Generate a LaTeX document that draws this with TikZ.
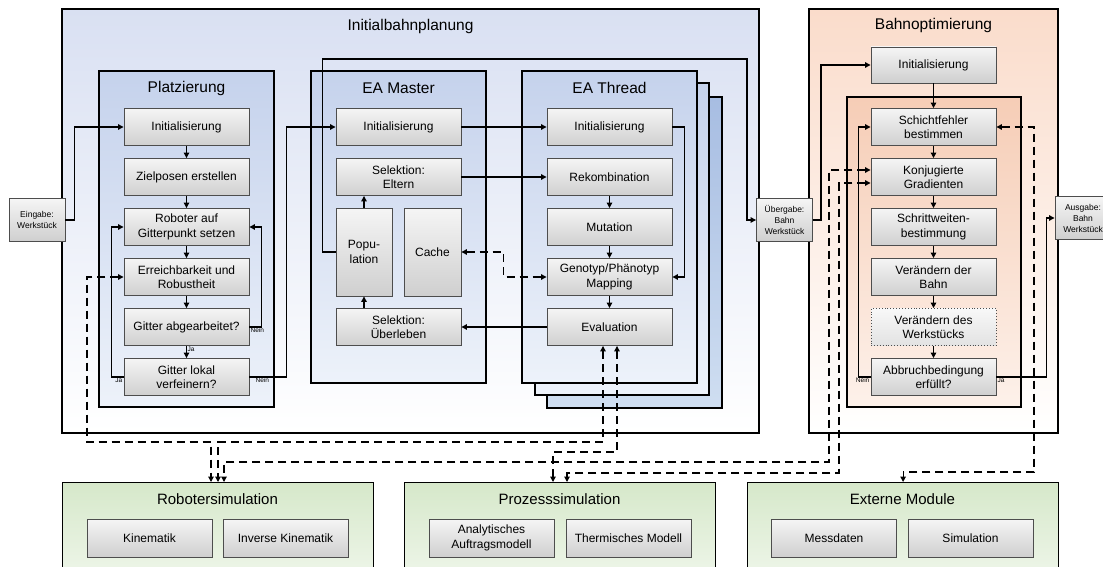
\documentclass[tikz,border=0pt]{standalone}
\usepackage{fontspec}
\setmainfont{Liberation Sans}
\usetikzlibrary{arrows.meta}

\definecolor{kastenrand}{HTML}{4D4D4D}
\definecolor{grauoben}{HTML}{F5F5F5}
\definecolor{grauunten}{HTML}{CFCFCF}
\definecolor{blauhell}{HTML}{D9E0F2}
\definecolor{blaumittel}{HTML}{C5D2EC}
\definecolor{blauunten}{HTML}{EDF2FA}
\definecolor{blaudunkel}{HTML}{A7BDE2}
\definecolor{blaudunkelunten}{HTML}{CFDEF1}
\definecolor{orangehell}{HTML}{FADCCB}
\definecolor{orangemittel}{HTML}{F6CDB6}
\definecolor{orangeunten}{HTML}{FDF1EA}
\definecolor{gruenoben}{HTML}{D6E8CA}
\definecolor{gruenunten}{HTML}{F2F8EE}

\tikzset{
  kasten/.style={draw=kastenrand, line width=0.9pt, top color=grauoben, bottom color=grauunten,
    minimum width=125pt, minimum height=37pt, align=center, inner sep=1pt,
    font=\fontsize{12}{14.5}\selectfont},
  klein/.style={kasten, minimum width=56pt, minimum height=43pt, font=\fontsize{8.5}{11}\selectfont},
  gruppe/.style={draw=black, line width=1.2pt},
  titel/.style={font=\fontsize{15.5}{18}\selectfont},
  pfeil/.style={-{Triangle[length=5.5pt,width=5.5pt]}, line width=1.2pt},
  strich/.style={{Triangle[length=5.5pt,width=5.5pt]}-{Triangle[length=5.5pt,width=5.5pt]}, line width=1.2pt, dash pattern=on 8pt off 5pt},
  anm/.style={font=\fontsize{6.5}{7}\selectfont, inner sep=1pt},
}

\begin{document}
\begin{tikzpicture}[x=1pt,y=-1pt]
\clip (0,0) rectangle (1103,567);

% =========================================================
% Initialbahnplanung (aussen)
% =========================================================
\draw[gruppe, top color=blauhell, bottom color=white] (62,9) rectangle (759,433);
\node[titel] (ibpTitel) at (410.5,26) {Initialbahnplanung};

% --- Platzierung ---
\draw[gruppe, top color=blaumittel, bottom color=blauunten] (99,71) rectangle (274,407);
\node[titel] (platzTitel) at (186.5,88) {Platzierung};
\node[kasten] (pInit) at (186.5,127) {Initialisierung};
\node[kasten] (pZiel) at (186.5,177) {Zielposen erstellen};
\node[kasten] (pRob)  at (186.5,227) {Roboter auf\\Gitterpunkt setzen};
\node[kasten] (pErr)  at (186.5,277) {Erreichbarkeit und\\Robustheit};
\node[kasten] (pGit)  at (186.5,327) {Gitter abgearbeitet?};
\node[kasten] (pLok)  at (186.5,377) {Gitter lokal\\verfeinern?};

% --- EA Master ---
\draw[gruppe, top color=blaumittel, bottom color=blauunten] (311,71) rectangle (486,383);
\node[titel] (masterTitel) at (398.5,88) {EA Master};
\node[kasten] (mInit) at (398.5,127) {Initialisierung};
\node[kasten] (mElt)  at (398.5,177) {Selektion:\\Eltern};
\node[kasten, minimum width=56pt, minimum height=88pt] (mPop) at (364,252) {Popu-\\lation};
\node[kasten, minimum width=57pt, minimum height=88pt] (mCache) at (432.5,252) {Cache};
\node[kasten] (mUeb)  at (398.5,327) {Selektion:\\Überleben};

% --- EA Thread (gestapelt) ---
\draw[gruppe, top color=blaudunkel, bottom color=blaudunkelunten] (547,97) rectangle (722,408);
\draw[gruppe, top color=blaumittel, bottom color=blauunten] (535,83) rectangle (709,395);
\draw[gruppe, top color=blaumittel, bottom color=blauunten] (522,71) rectangle (697,383);
\node[titel] (threadTitel) at (609.5,88) {EA Thread};
\node[kasten] (tInit) at (609.5,127) {Initialisierung};
\node[kasten] (tRek)  at (609.5,177) {Rekombination};
\node[kasten] (tMut)  at (609.5,227) {Mutation};
\node[kasten] (tMap)  at (609.5,277) {Genotyp/Phänotyp\\Mapping};
\node[kasten] (tEval) at (609.5,327) {Evaluation};

% =========================================================
% Bahnoptimierung
% =========================================================
\draw[gruppe, top color=orangehell, bottom color=white] (809,9) rectangle (1058,433);
\node[titel] (boTitel) at (933.5,25) {Bahnoptimierung};
\draw[gruppe, top color=orangemittel, bottom color=orangeunten] (847,97) rectangle (1021,407);
\node[kasten, minimum height=36pt] (bInit) at (933.5,65) {Initialisierung};
\node[kasten] (bSchicht) at (933.5,127) {Schichtfehler\\bestimmen};
\node[kasten] (bKonj)    at (933.5,177) {Konjugierte\\Gradienten};
\node[kasten] (bSchritt) at (933.5,227) {Schrittweiten-\\bestimmung};
\node[kasten] (bBahn)    at (933.5,277) {Verändern der\\Bahn};
\node[kasten, dotted, top color=grauoben!70!white, bottom color=grauunten!60!white] (bWerk) at (933.5,327) {Verändern des\\Werkstücks};
\node[kasten] (bAbb)     at (933.5,377) {Abbruchbedingung\\erfüllt?};

% Ein-/Ausgaben
\node[klein] (eIn)  at (37,220)    {Eingabe:\\Werkstück};
\node[klein] (eUeb) at (784.5,220) {Übergabe:\\Bahn\\Werkstück};
\node[klein] (eAus) at (1083,218)  {Ausgabe:\\Bahn\\Werkstück};

% =========================================================
% Module (unten)
% =========================================================
\node[gruppe, top color=gruenoben, bottom color=gruenunten, minimum width=311pt, minimum height=110pt, anchor=north west] (robsim) at (62,482) {};
\node[titel, font=\fontsize{15}{17}\selectfont] (robTitel) at (217.5,499) {Robotersimulation};
\node[kasten, minimum height=38pt] (kin)    at (149.5,538) {Kinematik};
\node[kasten, minimum height=38pt] (invkin) at (285.5,538) {Inverse Kinematik};

\node[gruppe, top color=gruenoben, bottom color=gruenunten, minimum width=311pt, minimum height=110pt, anchor=north west] (prozsim) at (404,482) {};
\node[titel, font=\fontsize{15}{17}\selectfont] (prozTitel) at (559.5,499) {Prozesssimulation};
\node[kasten, minimum height=38pt] (analyt) at (491.5,538) {Analytisches\\Auftragsmodell};
\node[kasten, minimum height=38pt] (therm)  at (628.5,538) {Thermisches Modell};

\node[gruppe, top color=gruenoben, bottom color=gruenunten, minimum width=311pt, minimum height=110pt, anchor=north west] (extern) at (747,482) {};
\node[titel, font=\fontsize{15}{17}\selectfont] (extTitel) at (902.5,499) {Externe Module};
\node[kasten, minimum height=38pt] (mess) at (834,538)   {Messdaten};
\node[kasten, minimum height=38pt] (sim)  at (970.5,538) {Simulation};

% Andockpunkte oben an den Modulen
\coordinate (rs1) at (211,482);
\coordinate (rs2) at (218,482);
\coordinate (rs3) at (224,482);
\coordinate (ps1) at (553,482);
\coordinate (ps2) at (567,482);
\coordinate (ecke) at (747,59);

% =========================================================
% Pfeile Platzierung
% =========================================================
\draw[pfeil] (eIn.east) -- ++(9,0) |- (pInit.west);
\draw[pfeil] (pInit) -- (pZiel);
\draw[pfeil] (pZiel) -- (pRob);
\draw[pfeil] (pRob) -- (pErr);
\draw[pfeil] (pErr) -- (pGit);
\draw[pfeil] (pGit) -- (pLok);
\draw[pfeil] (pGit.east) -- ++(12,0) |- (pRob.east);
\draw[pfeil] (pLok.west) -- ++(-12,0) |- (pRob.west);
\draw[pfeil] (pLok.east) -- ++(37,0) |- (mInit.west);
\node[anm, below right] (neinGit) at (pGit.east) {Nein};
\node[anm, below right] (jaGit) at (pGit.south) {Ja};
\node[anm, below left] (jaLok) at (pLok.west) {Ja};
\node[anm, below right, xshift=5pt] (neinLok) at (pLok.east) {Nein};

% =========================================================
% Pfeile EA
% =========================================================
\draw[pfeil] (mInit) -- (tInit);
\draw[pfeil] (mElt) -- (tRek);
\draw[pfeil] (tEval) -- (mUeb);
\draw[pfeil] (mUeb.north -| mPop.south) -- (mPop.south);
\draw[pfeil] (mPop.north) -- (mPop.north |- mElt.south);
\draw[pfeil] (mPop.west) -- ++(-13,0) |- (ecke) |- (eUeb.west);
\draw[pfeil] (tInit.east) -- ++(12,0) |- (tMap.east);
\draw[pfeil] (tRek) -- (tMut);
\draw[pfeil] (tMut) -- (tMap);
\draw[pfeil] (tMap) -- (tEval);
\draw[strich] (mCache.east) -- ++(42,0) |- (tMap.west);

% =========================================================
% Pfeile Bahnoptimierung
% =========================================================
\draw[pfeil] (eUeb.east) -- ++(8,0) |- (bInit.west);
\draw[pfeil] (bInit) -- (bSchicht);
\draw[pfeil] (bSchicht) -- (bKonj);
\draw[pfeil] (bKonj) -- (bSchritt);
\draw[pfeil] (bSchritt) -- (bBahn);
\draw[pfeil] (bBahn) -- (bWerk);
\draw[pfeil] (bWerk) -- (bAbb);
\draw[pfeil] (bAbb.west) -- ++(-12,0) |- (bSchicht.west);
\draw[pfeil] (bAbb.east) -- ++(50,0) |- (eAus.west);
\node[anm, below left] (neinAbb) at (bAbb.west) {Nein};
\node[anm, below right] (jaAbb) at (bAbb.east) {Ja};

% =========================================================
% Gestrichelte Verbindungen zu den Modulen
% =========================================================
\draw[strich] (pErr.west) -| (87,442) -| (rs1);
\draw[strich] (tEval.south -| 603,0) -- (603,442) -| (rs2);
\draw[strich] (tEval.south -| 617,0) -- (617,452) -| (ps1);
\draw[strich] (bKonj.west |- 0,170) -- (829,170) -- (829,462) -| (rs3);
\draw[strich] (bKonj.west |- 0,183) -- (839,183) -- (839,473) -| (ps2);
\draw[strich] (bSchicht.east) -- (1034,127) -- (1034,472) -| (extern.north);

\end{tikzpicture}
\end{document}
